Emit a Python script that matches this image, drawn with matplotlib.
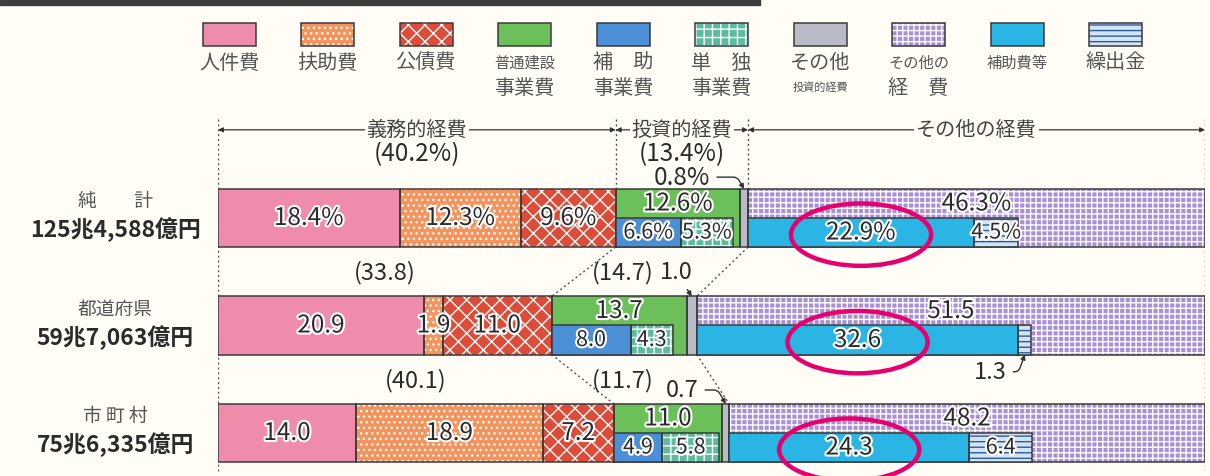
import matplotlib.pyplot as plt
import matplotlib.patheffects as pe
from matplotlib.patches import Rectangle, Ellipse
import numpy as np

plt.rcParams['font.family'] = ['Noto Sans CJK JP', 'DejaVu Sans']
plt.rcParams['hatch.linewidth'] = 1.0

# ---- data (percent of total expenditure) ----
regions = ['純　　計', '都道府県', '市 町 村']
totals = ['125兆4,588億円', '59兆7,063億円', '75兆6,335億円']

personnel = [18.4, 20.9, 14.0]      # 人件費
assistance = [12.3, 1.9, 18.9]      # 扶助費
debt = [9.6, 11.0, 7.2]             # 公債費
construction = [12.6, 13.7, 11.0]   # 普通建設事業費
subsidized = [6.6, 8.0, 4.9]        # 補助事業費
independent = [5.3, 4.3, 5.8]       # 単独事業費
other_invest = [0.8, 1.0, 0.7]      # その他投資的経費
other_exp = [46.3, 51.5, 48.2]      # その他の経費
subsidies = [22.9, 32.6, 24.3]      # 補助費等
transfers = [4.5, 1.3, 6.4]         # 繰出金
mandatory = [40.2, 33.8, 40.1]      # 義務的経費
investment = [13.4, 14.7, 11.7]     # 投資的経費

legend_labels = ['人件費', '扶助費', '公債費', '普通建設\n事業費', '補　助\n事業費',
                 '単　独\n事業費', 'その他\n投資的経費', 'その他の\n経　費', '補助費等', '繰出金']

# ---- styles: face, hatch, hatch colour ----
BG = '#fffdf6'
EDGE = '#3a3a3a'
TXT = '#2b2b2b'
styles = [
    ('#ef8cab', None, None),
    ('#f4935c', '...', 'white'),
    ('#dd4b39', 'xx', 'white'),
    ('#6cc05a', None, None),
    ('#4b8fd6', None, None),
    ('#5dbb9e', '++', 'white'),
    ('#b9bcc6', None, None),
    ('#a98fd8', '+++', 'white'),
    ('#2bb5e5', None, None),
    ('#d4e3f2', '---', '#2a5c9c'),
]

H = 0.54
NUM = 17.5   # numeric label size
SUB = 15.5   # labels inside the half-height boxes
halo = [pe.withStroke(linewidth=3, foreground='white')]

fig = plt.figure(figsize=(12.1, 4.77), dpi=100, facecolor=BG)

# pixel layout axes for legend / frame decoration
lay = fig.add_axes([0, 0, 1, 1])
lay.set_xlim(0, 1210)
lay.set_ylim(477, 0)
lay.axis('off')
lay.add_patch(Rectangle((0, 0), 760, 6, color='#3d3d3d'))

def box(axis, x, y, w, h, st, z=2):
    face, hatch, hcol = st
    axis.add_patch(Rectangle((x, y), w, h, facecolor=face, lw=0, zorder=z))
    if hatch:
        axis.add_patch(Rectangle((x, y), w, h, fill=False, hatch=hatch, edgecolor=hcol, lw=0, zorder=z + 0.1))
    axis.add_patch(Rectangle((x, y), w, h, fill=False, edgecolor=EDGE, lw=1.1, zorder=z + 0.2))

for i, lab in enumerate(legend_labels):
    cx = 229 + 98.5 * i
    box(lay, cx - 26.5, 24, 53, 23, styles[i])
    lines = lab.split('\n')
    for j, ln in enumerate(lines):
        if ln == '投資的経費':
            fs = 8
        elif len(ln) >= 4:
            fs = 11
        else:
            fs = 14.5
        lay.text(cx, 63 + 25 * j, ln, ha='center', va='center', fontsize=fs, color='#555555')

# ---- main axes: x in percent, y in rows ----
ax = fig.add_axes([218 / 1210, 0, 987 / 1210, 1])
ax.patch.set_visible(False)
ax.set_xlim(0, 100)
ax.set_ylim(2.4, -2.037)
ax.axis('off')

def seg(y, left, width, st, h=H, z=2):
    face, hatch, hcol = st
    ax.barh(y, width, left=left, height=h, color=face, lw=0, zorder=z)
    if hatch:
        ax.barh(y, width, left=left, height=h, fill=False, hatch=hatch, edgecolor=hcol, lw=0, zorder=z + 0.1)
    ax.barh(y, width, left=left, height=h, fill=False, edgecolor=EDGE, lw=1.1, zorder=z + 0.2)

def label(x, y, v, r, fs=NUM):
    s = f'{v}%' if r == 0 else f'{v}'
    ax.text(x, y, s, ha='center', va='center', fontsize=fs, color=TXT, zorder=7, path_effects=halo)

m_end = []
i_end = []
for r in range(3):
    parts = [personnel[r], assistance[r], debt[r], construction[r], other_invest[r], other_exp[r]]
    lefts = np.concatenate([[0], np.cumsum(parts)[:-1]])
    for k, (lft, w) in enumerate(zip(lefts, parts)):
        seg(r, lft, w, styles[[0, 1, 2, 3, 6, 7][k]])
    m_end.append(lefts[3])
    i_end.append(lefts[5])
    # sub boxes (lower half)
    c0 = lefts[3]
    seg(r + H / 4, c0, subsidized[r], styles[4], h=H / 2, z=5)
    seg(r + H / 4, c0 + subsidized[r], independent[r], styles[5], h=H / 2, z=5)
    o0 = lefts[5]
    seg(r + H / 4, o0, subsidies[r], styles[8], h=H / 2, z=5)
    seg(r + H / 4, o0 + subsidies[r], transfers[r], styles[9], h=H / 2, z=5)

    for k in range(3):
        label(lefts[k] + parts[k] / 2, r, parts[k], r)
    label(c0 + construction[r] / 2, r - H / 4, construction[r], r)
    label(c0 + subsidized[r] / 2, r + H / 4, subsidized[r], r, SUB)
    label(c0 + subsidized[r] + independent[r] / 2, r + H / 4, independent[r], r, SUB)
    label(o0 + other_exp[r] / 2, r - H / 4, other_exp[r], r)
    label(o0 + subsidies[r] / 2, r + H / 4, subsidies[r], r)
    if transfers[r] >= 2:
        label(o0 + subsidies[r] + transfers[r] / 2, r + H / 4, transfers[r], r, SUB)

    ax.add_patch(Ellipse((o0 + subsidies[r] / 2, r + H / 4 + 0.02), 14.2, 0.58, fill=False,
                         edgecolor='#e6006e', lw=3.2, zorder=8))

    # region names
    ax.text(-10.4, r - 0.16, regions[r], ha='center', va='center', fontsize=13.5, color='#555555')
    ax.text(-10.4, r + 0.10, totals[r], ha='center', va='center', fontsize=16.5, fontweight='bold', color=TXT)

# ---- dotted guides ----
dot = dict(color='#555555', lw=1, ls=(0, (1.5, 2)), zorder=1)
for x in (0, 100):
    ax.plot([x, x], [-0.92, 2.35], **dot)
for x in (m_end[0], i_end[0]):
    ax.plot([x, x], [-0.92, -H / 2], **dot)
for r in range(2):
    for ends in (m_end, i_end):
        ax.plot([ends[r], ends[r + 1]], [r + H / 2, r + 1 - H / 2], **dot)

# ---- header brackets ----
yh = -0.82
heads = [('義務的経費', 0, m_end[0]), ('投資的経費', m_end[0], i_end[0]), ('その他の経費', i_end[0], 100)]
for name, a, b in heads:
    ax.annotate('', xy=(a, yh), xytext=(b, yh),
                arrowprops=dict(arrowstyle='<|-|>', color='#333333', lw=0.9, mutation_scale=7,
                                shrinkA=0, shrinkB=0))
    ax.text((a + b) / 2, yh, name, ha='center', va='center', fontsize=14.5, color='#444444',
            bbox=dict(facecolor=BG, edgecolor='none', pad=1.5), zorder=5)
ax.text(m_end[0] / 2, -0.6, f'({mandatory[0]}%)', ha='center', va='center', fontsize=NUM, color=TXT)
ax.text((m_end[0] + i_end[0]) / 2, -0.6, f'({investment[0]}%)', ha='center', va='center',
        fontsize=NUM, color=TXT)

# ---- between-bar group values ----
inv_x = [None, 41.0, 41.0]
for r in (1, 2):
    ax.text(m_end[r] / 2, r - 0.5, f'({mandatory[r]})', ha='center', va='center', fontsize=17, color=TXT)
    ax.text(inv_x[r], r - 0.5, f'({investment[r]})', ha='center', va='center', fontsize=17, color=TXT)

# ---- call-outs for thin segments ----
arrow = dict(arrowstyle='-|>', color='#333333', lw=1, mutation_scale=7, shrinkA=3, shrinkB=0)
gx = [i_end[r] - other_invest[r] / 2 for r in range(3)]
ax.annotate(f'{other_invest[0]}%', xy=(gx[0], -H / 2), xytext=(47.0, -0.38), ha='center', va='center',
            fontsize=NUM, color=TXT,
            arrowprops=dict(connectionstyle='angle,angleA=0,angleB=120,rad=4', **arrow))
ax.annotate(f'{other_invest[1]}', xy=(gx[1], 1 - H / 2), xytext=(46.4, 0.5), ha='center', va='center',
            fontsize=17, color=TXT, arrowprops=dict(connectionstyle='arc3', **arrow))
ax.annotate(f'{other_invest[2]}', xy=(gx[2], 2 - H / 2), xytext=(47.0, 1.6), ha='center', va='center',
            fontsize=17, color=TXT,
            arrowprops=dict(connectionstyle='angle,angleA=0,angleB=120,rad=4', **arrow))
tx = i_end[1] + subsidies[1] + transfers[1] / 2
ax.annotate(f'{transfers[1]}', xy=(tx, 1 + H / 2), xytext=(78.2, 1.43), ha='center', va='center',
            fontsize=17, color=TXT,
            arrowprops=dict(connectionstyle='angle,angleA=0,angleB=70,rad=4', **arrow))

fig.savefig('out.png', dpi=100, facecolor=BG)
